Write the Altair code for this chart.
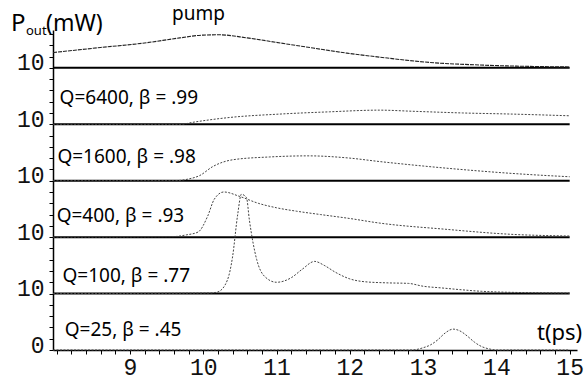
import altair as alt
import pandas as pd

# Output power traces (mW above each trace's own baseline), stacked 10 mW apart
T_PUMP = [7.95, 8.6, 9.2, 9.68, 10.0, 10.22, 10.6, 11.05, 11.5, 11.96, 12.4, 13.09, 13.77, 14.45, 15.0]
P_PUMP = [2.7, 3.6, 4.4, 5.3, 5.8, 5.85, 5.3, 4.4, 3.5, 2.6, 1.9, 0.95, 0.5, 0.25, 0.15]

T_Q6400 = [7.95, 9.7, 9.86, 10.36, 11.04, 11.72, 12.4, 12.86, 13.54, 14.22, 15.0]
P_Q6400 = [0, 0, 0.35, 1.2, 1.8, 2.2, 2.5, 2.3, 2.0, 1.8, 1.5]

T_Q1600 = [7.95, 9.6, 9.8, 9.95, 10.13, 10.4, 10.9, 11.43, 12.0, 12.4, 13.0, 13.6, 14.2, 14.7, 15.0]
P_Q1600 = [0, 0, 0.3, 0.9, 2.5, 3.7, 4.2, 4.4, 4.0, 3.4, 2.6, 1.9, 1.3, 0.9, 0.7]

T_Q400 = [7.95, 9.6, 9.77, 9.93, 10.06, 10.15, 10.28, 10.5, 10.75, 11.0, 11.27, 11.6, 12.0, 12.4, 13.3, 14.2, 15.0]
P_Q400 = [0, 0.1, 0.4, 0.9, 3.7, 6.7, 8.0, 7.2, 6.0, 5.2, 4.6, 4.0, 3.3, 2.5, 1.4, 0.5, 0.2]

T_Q100 = [7.95, 10.1, 10.2, 10.33, 10.4, 10.47, 10.52, 10.59, 10.63, 10.73, 10.84, 11.0, 11.2,
          11.35, 11.52, 11.65, 11.8, 12.0, 12.2, 12.5, 12.8, 13.0, 13.25, 13.5, 13.8, 14.5, 15.0]
P_Q100 = [0, 0.1, 0.3, 2.4, 6.5, 14.0, 17.6, 17.0, 13.0, 6.0, 3.0, 2.0, 2.8,
          4.3, 5.7, 5.0, 3.8, 2.6, 2.1, 1.9, 1.8, 1.3, 1.0, 0.7, 0.4, 0.15, 0.1]

T_Q25 = [7.95, 12.85, 13.0, 13.1, 13.2, 13.3, 13.41, 13.5, 13.6, 13.7, 13.8, 13.9, 14.0, 15.0]
P_Q25 = [0, 0, 0.4, 0.9, 1.8, 3.0, 3.7, 3.4, 2.5, 1.4, 0.6, 0.2, 0, 0]

SERIES = ["pump", "Q=6400", "Q=1600", "Q=400", "Q=100", "Q=25"]
OFFSETS = [50, 40, 30, 20, 10, 0]
TIMES = [T_PUMP, T_Q6400, T_Q1600, T_Q400, T_Q100, T_Q25]
POWERS = [P_PUMP, P_Q6400, P_Q1600, P_Q400, P_Q100, P_Q25]

# Strip captions and where they sit (t, stacked power)
CAPTIONS = ["Q=6400, β = .99", "Q=1600, β = .98", "Q=400, β = .93", "Q=100, β = .77", "Q=25, β = .45"]
CAPTION_T = [8.04, 8.01, 8.0, 8.08, 8.11]
CAPTION_P = [43.6, 33.2, 22.7, 12.1, 2.5]

BASELINES = [10, 20, 30, 40, 50]

rows = []
for name, off, ts, ps in zip(SERIES, OFFSETS, TIMES, POWERS):
    for t, p in zip(ts, ps):
        rows.append({"series": name, "t": t, "p": off + p})
traces = pd.DataFrame(rows)

base_df = pd.DataFrame({"p": BASELINES, "t0": [7.95] * len(BASELINES), "t1": [15.0] * len(BASELINES)})
cap_df = pd.DataFrame({"text": CAPTIONS, "t": CAPTION_T, "p": CAPTION_P})

x_scale = alt.Scale(domain=[7.95, 15.1], nice=False, zero=False)
y_scale = alt.Scale(domain=[0, 56.7], nice=False, zero=False)

x_ticks = [round(8 + 0.2 * i, 1) for i in range(36)]
y_ticks = list(range(0, 57, 2))

x_axis = alt.Axis(
    values=x_ticks,
    labelExpr="abs(datum.value - round(datum.value)) < 0.01 && datum.value >= 9 ? format(datum.value, 'd') : ''",
    title=None, grid=False, tickSize=4, tickColor="black", domainColor="black", domainWidth=1.5,
    labelFont="Liberation Mono", labelFontSize=23, labelColor="#111111", labelPadding=2,
    labelOverlap=False, labelBound=False, labelFlush=False,
)
y_axis = alt.Axis(
    values=y_ticks,
    labelExpr="datum.value == 0 ? '0' : (datum.value % 10 == 0 ? '10' : '')",
    title=None, grid=False, tickSize=4, tickColor="black", domainColor="black", domainWidth=1.5,
    labelFont="Liberation Mono", labelFontSize=23, labelColor="#111111", labelPadding=5,
    labelOffset=-5, labelOverlap=False, labelBound=False, labelFlush=False,
)

X = alt.X("t:Q", scale=x_scale, axis=x_axis)
Y = alt.Y("p:Q", scale=y_scale, axis=y_axis)

pump_line = alt.Chart(traces).transform_filter(alt.datum.series == "pump").mark_line(
    color="#222222", strokeWidth=1.1, strokeDash=[4, 1], interpolate="monotone"
).encode(x=X, y=Y)

q_lines = alt.Chart(traces).transform_filter(alt.datum.series != "pump").mark_line(
    color="#444444", strokeWidth=1.0, strokeDash=[2, 1.5], interpolate="monotone"
).encode(x=X, y=Y, detail="series:N")

baselines = alt.Chart(base_df).mark_rule(color="black", strokeWidth=2).encode(
    x=alt.X("t0:Q", scale=x_scale, axis=x_axis),
    x2="t1:Q",
    y=Y,
)

captions = alt.Chart(cap_df).mark_text(
    align="left", baseline="alphabetic", font="Noto Sans", fontSize=19, color="black"
).encode(x=X, y=Y, text="text:N")

one = pd.DataFrame({"k": [0]})


def note(text, x, y, size):
    return alt.Chart(one).mark_text(
        text=text, align="left", baseline="alphabetic", font="Noto Sans", fontSize=size, color="black"
    ).encode(x=alt.value(x), y=alt.value(y))


notes = [
    note("P", -42, 1, 24),
    note("out", -27, 5, 13),
    note("(mW)", -7, 1, 23),
    note("pump", 119, -10, 19),
    note("t(ps)", 484, 310, 22),
]

chart = alt.layer(baselines, q_lines, pump_line, captions, *notes).properties(
    width=524, height=320,
    autosize=alt.AutoSizeParams(type="none"),
    padding={"left": 53, "top": 30, "right": 11, "bottom": 31},
    background="white",
).configure_view(stroke=None).configure_axis(labelOverlap=False, labelBound=False)

chart.save("out.html", embed_options={"renderer": "svg", "actions": False})
